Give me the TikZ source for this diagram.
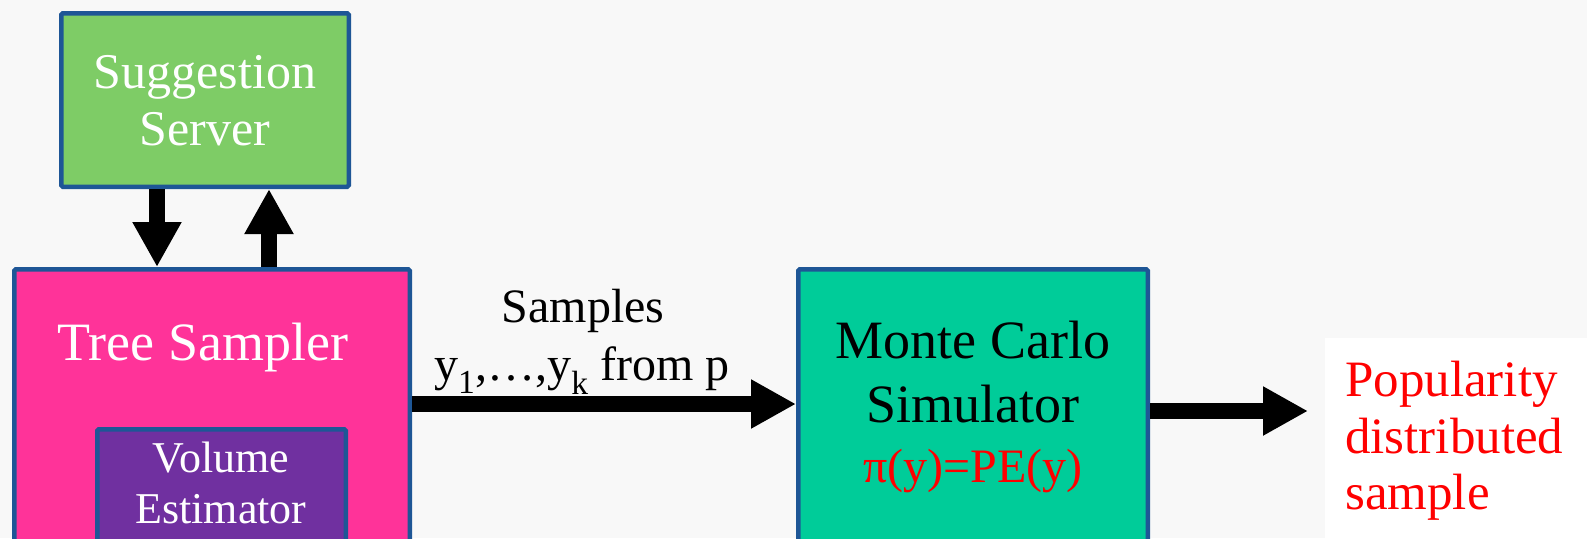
\documentclass[tikz,border=0pt]{standalone}
\usepackage{fontspec}
\setmainfont{Liberation Serif}
\usetikzlibrary{arrows.meta}
\definecolor{edge}{RGB}{30,86,150}
\definecolor{sugfill}{RGB}{126,204,102}
\definecolor{treefill}{RGB}{255,51,153}
\definecolor{volfill}{RGB}{112,48,160}
\definecolor{mcfill}{RGB}{0,204,153}
\definecolor{paper}{RGB}{248,248,248}
\definecolor{hot}{RGB}{255,0,0}
\newcommand{\fs}[2]{\fontsize{#1}{#2}\selectfont}
\tikzset{
  box/.style={draw=edge, line width=4.5pt, rounded corners=1.5pt, inner sep=0pt, anchor=north west, rectangle},
  txt/.style={inner sep=0pt, anchor=base},
  blk/.style={line width=16pt, -{Triangle[width=46pt,length=45pt]}},
}
\begin{document}
\begin{tikzpicture}[x=1pt,y=-1pt]
  \useasboundingbox (0,0) rectangle (1587,538);
  \clip (0,0) rectangle (1587,538);
  \fill[paper] (0,0) rectangle (1587,538);

  % blocks
  \node[box, fill=sugfill, minimum width=287.5pt, minimum height=173.5pt] (sugg) at (59,11) {};
  \node[box, fill=treefill, minimum width=395.5pt, minimum height=320pt] (tree) at (12,267) {};
  \node[box, fill=volfill, minimum width=248.5pt, minimum height=200pt] (vol) at (95,427) {};
  \node[box, fill=mcfill, minimum width=349.5pt, minimum height=320pt] (mc) at (796,267) {};
  \node[fill=white, inner sep=0pt, anchor=north west, minimum width=270pt, minimum height=210pt] (outbg) at (1325,338) {};

  % block labels
  \node[txt, text=white, font=\fs{50}{57}] (sugg1) at (205,88) {Suggestion};
  \node[txt, text=white, font=\fs{50}{57}] (sugg2) at (205,145) {Server};
  \node[txt, text=white, font=\fs{54}{60}] (tree1) at (203,360) {Tree Sampler};
  \node[txt, text=white, font=\fs{44}{50}] (vol1) at (221,472) {Volume};
  \node[txt, text=white, font=\fs{44}{50}] (vol2) at (221,523) {Estimator};
  \node[txt, font=\fs{54}{60}] (mc1) at (973,358) {Monte Carlo};
  \node[txt, font=\fs{54}{60}] (mc2) at (973,422) {Simulator};
  \node[txt, text=hot, font=\fs{48}{54}] (mc3) at (973,482) {π(y)=PE(y)};

  % connectors
  \coordinate (cd) at (157,0);
  \coordinate (cu) at (269,0);
  \coordinate (ch) at (0,404);
  \coordinate (out) at (1308,411);
  \draw[blk] (sugg.south -| cd) -- (tree.north -| cd);
  \draw[blk] (tree.north -| cu) -- (sugg.south -| cu);
  \draw[blk] (tree.east |- ch) -- (mc.west |- ch);
  \draw[blk] (mc.east |- out) -- (out);

  % arrow label
  \node[txt, font=\fs{48}{56}] (smp1) at (583,322) {Samples};
  \node[txt, font=\fs{48}{56}] (smp2) at (582,380) {y\textsubscript{1},…,y\textsubscript{k} from p};

  % result
  \node[txt, anchor=base west, text=hot, font=\fs{51}{56}] (res1) at (1345,396) {Popularity};
  \node[txt, anchor=base west, text=hot, font=\fs{51}{56}] (res2) at (1345,453) {distributed};
  \node[txt, anchor=base west, text=hot, font=\fs{51}{56}] (res3) at (1345,509) {sample};
\end{tikzpicture}
\end{document}
